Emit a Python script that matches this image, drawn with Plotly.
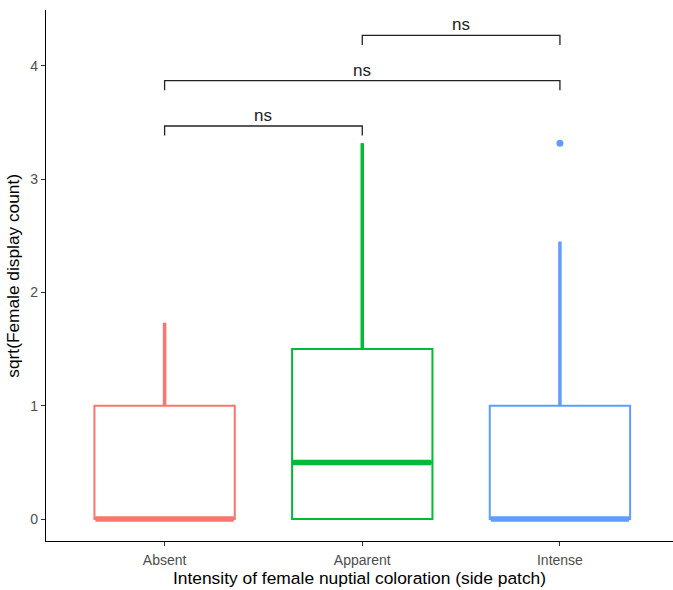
import plotly.graph_objects as go

# ---- data ----
groups = ["Absent", "Apparent", "Intense"]
colors = ["#F8766D", "#00BA38", "#619CFF"]
q1 = [0.0, 0.0, 0.0]
median = [0.0, 0.5, 0.0]
q3 = [1.0, 1.5, 1.0]
lower = [0.0, 0.0, 0.0]
upper = [1.732, 3.317, 2.449]
outlier_group = [3]
outlier_y = [3.317]

comp_a = [1, 1, 2]
comp_b = [2, 3, 3]
comp_y = [3.47, 3.87, 4.27]
comp_label = ["ns", "ns", "ns"]

yticks = [0, 1, 2, 3, 4]

FONT = "Liberation Sans"
BOXW = 0.71
TICK = 0.085

fig = go.Figure()
for i, g in enumerate(groups):
    x = i + 1
    fig.add_trace(go.Box(
        x=[x], q1=[q1[i]], median=[median[i]], q3=[q3[i]],
        lowerfence=[lower[i]], upperfence=[upper[i]],
        width=BOXW, whiskerwidth=0, boxpoints=False,
        fillcolor="white", line=dict(color=colors[i], width=2),
        showlegend=False, hoverinfo="skip"))
    # thicker whisker
    fig.add_trace(go.Scatter(x=[x, x], y=[q3[i], upper[i]], mode="lines",
                             line=dict(color=colors[i], width=3.5),
                             showlegend=False, hoverinfo="skip"))
    fig.add_trace(go.Scatter(x=[x, x], y=[lower[i], q1[i]], mode="lines",
                             line=dict(color=colors[i], width=3.5),
                             showlegend=False, hoverinfo="skip"))
    # thick median
    fig.add_trace(go.Scatter(x=[x - BOXW / 2 + 0.005, x + BOXW / 2 - 0.005],
                             y=[median[i], median[i]], mode="lines",
                             line=dict(color=colors[i], width=5.5),
                             showlegend=False, hoverinfo="skip"))

fig.add_trace(go.Scatter(x=outlier_group, y=outlier_y, mode="markers",
                         marker=dict(color=[colors[g - 1] for g in outlier_group], size=7),
                         showlegend=False, hoverinfo="skip"))

for a, b, y, lab in zip(comp_a, comp_b, comp_y, comp_label):
    fig.add_trace(go.Scatter(x=[a, a, b, b], y=[y - TICK, y, y, y - TICK],
                             mode="lines", line=dict(color="#222222", width=1.3),
                             showlegend=False, hoverinfo="skip"))
    fig.add_annotation(x=(a + b) / 2, y=y, text=lab, showarrow=False,
                       yanchor="bottom", yshift=-1,
                       font=dict(family=FONT, size=17, color="#222222"))

# y-axis title placed like ggplot's (centered on the panel)
fig.add_annotation(xref="paper", yref="paper", x=-0.054, y=0.5,
                   xanchor="center", yanchor="middle", textangle=-90,
                   text="sqrt(Female display count)", showarrow=False,
                   font=dict(family=FONT, size=17.3, color="black"))

fig.update_layout(
    width=673, height=590,
    margin=dict(l=46, r=0, t=10, b=49),
    paper_bgcolor="white", plot_bgcolor="white",
    font=dict(family=FONT),
)
fig.update_xaxes(
    range=[0.4, 3.572], tickmode="array", tickvals=[1, 2, 3], ticktext=groups,
    showline=True, linecolor="black", linewidth=1.3, showgrid=False, zeroline=False,
    ticks="outside", ticklen=4, tickcolor="#333333", tickwidth=1,
    ticklabelstandoff=2,
    tickfont=dict(family=FONT, size=14, color="#4D4D4D"),
    title=dict(text="Intensity of female nuptial coloration (side patch)",
               font=dict(family=FONT, size=17.4, color="black"), standoff=3),
)
fig.update_yaxes(
    range=[-0.194, 4.494], tickmode="array", tickvals=yticks,
    showline=True, linecolor="black", linewidth=1.3, showgrid=False, zeroline=False,
    ticks="outside", ticklen=4, tickcolor="#333333", tickwidth=1,
    tickfont=dict(family=FONT, size=14, color="#4D4D4D"),
)

fig.write_html("out.html")
